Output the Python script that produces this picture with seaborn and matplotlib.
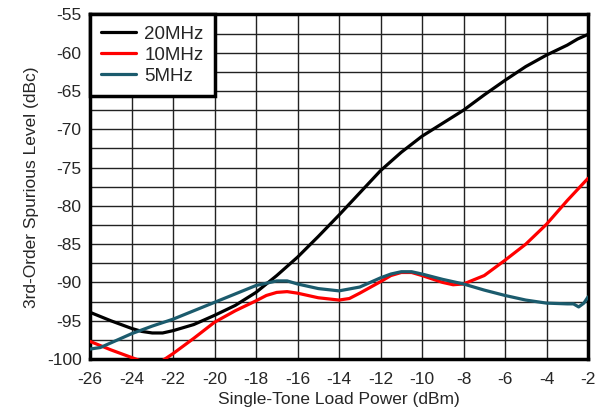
import numpy as np
import pandas as pd
import matplotlib
matplotlib.use("Agg")
import matplotlib.pyplot as plt
import seaborn as sns

# --- data ---
x_20 = [-26, -25, -24, -23.5, -23, -22.5, -22, -21, -20, -19, -18, -17, -16, -15, -14, -13, -12, -11, -10, -9, -8, -7, -6, -5, -4, -3, -2.5, -2]
y_20 = [-93.9, -95.0, -96.0, -96.4, -96.6, -96.6, -96.3, -95.5, -94.3, -93.0, -91.3, -89.1, -86.7, -84.0, -81.2, -78.3, -75.4, -73.0, -70.9, -69.2, -67.5, -65.5, -63.6, -61.8, -60.3, -59.0, -58.2, -57.6]

x_10 = [-26, -25, -24, -23.5, -23, -22.5, -22, -21, -20, -19, -18, -17.5, -17, -16.5, -16, -15, -14, -13.5, -13, -12, -11.5, -11, -10.5, -10, -9, -8.5, -8, -7, -6, -5, -4, -3, -2]
y_10 = [-97.7, -98.8, -99.8, -100.3, -100.5, -100.2, -99.3, -97.3, -95.2, -93.7, -92.4, -91.7, -91.3, -91.2, -91.4, -92.0, -92.3, -92.1, -91.4, -89.9, -89.1, -88.7, -88.7, -89.1, -90.0, -90.3, -90.2, -89.1, -87.1, -85.0, -82.4, -79.3, -76.4]

x_5 = [-26, -25.5, -25, -24, -23, -22, -21, -20, -19, -18, -17, -16.5, -16, -15, -14, -13, -12, -11.5, -11, -10.5, -10, -9, -8, -7, -6, -5, -4, -3, -2.7, -2.45, -2.2, -2]
y_5 = [-98.7, -98.5, -97.9, -96.7, -95.7, -94.8, -93.7, -92.6, -91.5, -90.4, -89.8, -89.8, -90.2, -90.8, -91.1, -90.6, -89.4, -88.9, -88.6, -88.6, -88.9, -89.6, -90.2, -91.0, -91.7, -92.3, -92.7, -92.8, -92.8, -93.2, -92.7, -91.9]

labels = ["20MHz", "10MHz", "5MHz"]
colors = ["#000000", "#ff0000", "#1b5b6d"]
x_ticks = list(range(-26, -1, 2))
y_ticks = list(range(-100, -54, 5))

df = pd.concat([
    pd.DataFrame({"x": x_20, "y": y_20, "s": labels[0]}),
    pd.DataFrame({"x": x_10, "y": y_10, "s": labels[1]}),
    pd.DataFrame({"x": x_5, "y": y_5, "s": labels[2]}),
], ignore_index=True)

sns.set_style("white")
plt.rcParams["font.family"] = ["Liberation Sans", "DejaVu Sans"]

fs = 12.5
fig = plt.figure(figsize=(6.03, 4.11), dpi=100)
ax = fig.add_axes([90/603, 1 - 359/411, (588-90)/603, (359-14.5)/411])

sns.lineplot(data=df, x="x", y="y", hue="s", hue_order=labels,
             palette=dict(zip(labels, colors)), sort=False,
             linewidth=2.3, ax=ax, zorder=3)

ax.set_xlim(-26, -2)
ax.set_ylim(-100, -55)
ax.set_xticks(x_ticks)
ax.set_yticks(y_ticks)
ax.set_yticks(np.arange(-100, -54, 2.5), minor=True)
ax.grid(True, which="major", color="#222222", linewidth=1.0)
ax.grid(True, which="minor", axis="y", color="#222222", linewidth=1.0)
ax.tick_params(axis="x", which="both", length=0, labelsize=fs, pad=9)
ax.tick_params(axis="y", which="both", length=0, labelsize=fs, pad=6)
ax.set_xticklabels([str(v) for v in x_ticks])
ax.set_yticklabels([str(v) for v in y_ticks])

for sp in ax.spines.values():
    sp.set_visible(True)
    sp.set_color("black")
    sp.set_linewidth(2.5)

ax.set_xlabel("Single-Tone Load Power (dBm)", fontsize=fs, labelpad=4)
ax.set_ylabel("3rd-Order Spurious Level (dBc)", fontsize=fs, labelpad=6)

leg = ax.legend(loc="upper left", borderaxespad=0, fontsize=13.5,
                handlelength=1.85, handletextpad=0.45, borderpad=0.6,
                labelspacing=0.2, fancybox=False, framealpha=1,
                edgecolor="black")
leg.get_frame().set_linewidth(2.5)
leg.set_zorder(5)
for h in leg.get_lines():
    h.set_linewidth(2.3)

fig.savefig("out.png", dpi=100)
